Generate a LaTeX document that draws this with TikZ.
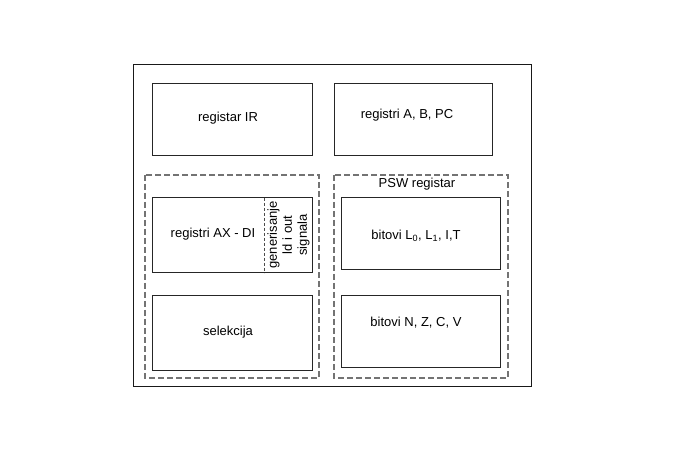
\documentclass[tikz,border=0pt]{standalone}
\usepackage{fontspec}
\setmainfont{Liberation Sans}
\begin{document}
\begin{tikzpicture}[x=1pt,y=-1pt,
  frame/.style={draw=black!90,line width=1pt},
  regbox/.style={draw=black!85,line width=1pt},
  group/.style={draw=black!55,line width=1.1pt,dash pattern=on 6pt off 3pt},
  divider/.style={draw=black!70,line width=0.7pt,dash pattern=on 3pt off 2pt},
  lbl/.style={inner sep=0pt,font=\fontsize{13}{15}\selectfont},
  rlbl/.style={inner sep=0pt,font=\fontsize{13}{15}\selectfont,align=center,rotate=90}]
\useasboundingbox[fill=white] (0,0) rectangle (680,470);
% outer frame
\draw[frame] (133,65) rectangle (531,386);
% top boxes
\draw[regbox] (152,84) rectangle (312,156);
\draw[regbox] (334,84) rectangle (492,156);
\node[lbl] (ir) at (228,118) {registar IR};
\node[lbl] (abpc) at (407,115) {registri A, B, PC};
% dashed groups
\draw[group] (145,175) rectangle (319,378);
\draw[group] (334,175) rectangle (508,378);
\node[lbl] (psw) at (417,184) {PSW registar};
% left group boxes
\draw[regbox] (152,198) rectangle (312,273);
\draw[divider] (264.5,198) -- (264.5,273);
\node[lbl] (ax) at (213,234) {registri AX - DI};
\node[rlbl] (gen) at (288.5,235) {generisanje\\ld i out\\signala};
\draw[regbox] (152,296) rectangle (312,370);
\node[lbl] (sel) at (228,332) {selekcija};
% right group boxes
\draw[regbox] (341,198) rectangle (500,270);
\node[lbl] (bl) at (416,236) {bitovi L\textsubscript{0}, L\textsubscript{1}, I,T};
\draw[regbox] (341,296) rectangle (500,367);
\node[lbl] (bn) at (416,323) {bitovi N, Z, C, V};
\end{tikzpicture}
\end{document}
